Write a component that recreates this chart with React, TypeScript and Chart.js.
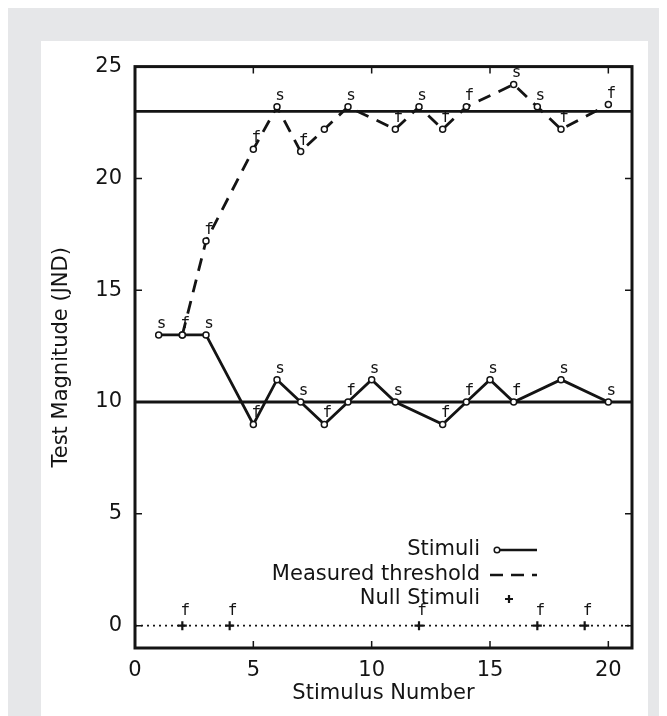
import React, { useEffect, useRef } from "react";
import { Chart, registerables } from "chart.js";

Chart.register(...registerables);

// ---- data ----
const stimX = [1, 2, 3, 5, 6, 7, 8, 9, 10, 11, 13, 14, 15, 16, 18, 20];
const stimY = [13, 13, 13, 9, 11, 10, 9, 10, 11, 10, 9, 10, 11, 10, 11, 10];
const stimLabels = ["s", "f", "s", "f", "s", "s", "f", "f", "s", "s", "f", "f", "s", "f", "s", "s"];

const threshX = [2, 3, 5, 6, 7, 8, 9, 11, 12, 13, 14, 16, 17, 18, 20];
const threshY = [13, 17.2, 21.3, 23.2, 21.2, 22.2, 23.2, 22.2, 23.2, 22.2, 23.2, 24.2, 23.2, 22.2, 23.3];
const threshLabels = ["", "f", "f", "s", "f", "", "s", "f", "s", "f", "f", "s", "s", "f", "f"];

const nullX = [2, 4, 12, 17, 19];
const nullY = [0, 0, 0, 0, 0];
const nullLabels = ["f", "f", "f", "f", "f"];

const refLevels = [10, 23];
const xRange = [0, 21];
const yRange = [-1, 25];
const xTicks = [0, 5, 10, 15, 20];
const yTicks = [0, 5, 10, 15, 20, 25];

const legendNames = ["Stimuli", "Measured threshold", "Null Stimuli"];

const INK = "#141414";
const FONT = "'DejaVu Sans', sans-serif";

const pts = (xs: number[], ys: number[]) => xs.map((x, i) => ({ x, y: ys[i] }));

const labelPlugin = {
  id: "pointLabels",
  afterDatasetsDraw(chart: any) {
    const ctx = chart.ctx;
    ctx.save();
    ctx.fillStyle = INK;
    ctx.font = "16px 'DejaVu Sans Mono', monospace";
    ctx.textAlign = "center";
    ctx.textBaseline = "alphabetic";
    chart.data.datasets.forEach((ds: any, di: number) => {
      if (!ds.pointLabels) return;
      const meta = chart.getDatasetMeta(di);
      meta.data.forEach((el: any, i: number) => {
        const t = ds.pointLabels[i];
        if (!t) return;
        ctx.fillText(t, el.x + 3, el.y - ds.labelLift);
      });
    });
    ctx.restore();
  },
};

const framePlugin = {
  id: "frame",
  afterDraw(chart: any) {
    const { ctx, chartArea: a, scales } = chart;
    ctx.save();
    ctx.strokeStyle = INK;
    ctx.lineWidth = 3;
    ctx.strokeRect(a.left, a.top, a.right - a.left, a.bottom - a.top);
    ctx.lineWidth = 1.5;
    const tl = 7;
    xTicks.forEach((v) => {
      const px = scales.x.getPixelForValue(v);
      if (Math.abs(px - a.left) < 3 || Math.abs(px - a.right) < 3) return;
      ctx.beginPath();
      ctx.moveTo(px, a.bottom);
      ctx.lineTo(px, a.bottom - tl);
      ctx.moveTo(px, a.top);
      ctx.lineTo(px, a.top + tl);
      ctx.stroke();
    });
    yTicks.forEach((v) => {
      const py = scales.y.getPixelForValue(v);
      if (Math.abs(py - a.top) < 3 || Math.abs(py - a.bottom) < 3) return;
      ctx.beginPath();
      ctx.moveTo(a.left, py);
      ctx.lineTo(a.left + tl, py);
      ctx.moveTo(a.right, py);
      ctx.lineTo(a.right - tl, py);
      ctx.stroke();
    });

    // legend
    const textRight = 439;
    const rows = [509, 534, 558];
    ctx.font = "21px " + FONT;
    ctx.fillStyle = INK;
    ctx.textAlign = "right";
    ctx.textBaseline = "middle";
    legendNames.forEach((n, i) => ctx.fillText(n, textRight, rows[i]));
    const sx0 = textRight + 10;
    const sx1 = textRight + 57;
    ctx.strokeStyle = INK;
    ctx.lineWidth = 2.5;
    ctx.beginPath();
    ctx.moveTo(sx0 + 7, rows[0]);
    ctx.lineTo(sx1, rows[0]);
    ctx.stroke();
    ctx.lineWidth = 1.5;
    ctx.fillStyle = "#fff";
    ctx.beginPath();
    ctx.arc(sx0 + 7, rows[0], 2.8, 0, Math.PI * 2);
    ctx.fill();
    ctx.stroke();
    ctx.lineWidth = 2.5;
    ctx.setLineDash([13, 8]);
    ctx.beginPath();
    ctx.moveTo(sx0, rows[1]);
    ctx.lineTo(sx1, rows[1]);
    ctx.stroke();
    ctx.setLineDash([]);
    ctx.lineWidth = 2.2;
    const px = sx0 + 19;
    ctx.beginPath();
    ctx.moveTo(px - 4, rows[2]);
    ctx.lineTo(px + 4, rows[2]);
    ctx.moveTo(px, rows[2] - 4);
    ctx.lineTo(px, rows[2] + 4);
    ctx.stroke();
    ctx.restore();
  },
};

export default function App() {
  const ref = useRef<HTMLCanvasElement | null>(null);
  useEffect(() => {
    if (!ref.current) return;
    const refSets = refLevels.map((lv) => ({
      data: pts(xRange, [lv, lv]),
      borderColor: INK,
      borderWidth: 2.8,
      pointRadius: 0,
      showLine: true,
    }));
    const chart = new Chart(ref.current, {
      type: "scatter",
      data: {
        datasets: [
          {
            data: pts(stimX, stimY),
            showLine: true,
            borderColor: INK,
            borderWidth: 2.8,
            pointRadius: 3,
            pointBorderWidth: 1.5,
            pointBorderColor: INK,
            pointBackgroundColor: "#fff",
            pointLabels: stimLabels,
            labelLift: 7,
          } as any,
          {
            data: pts(threshX, threshY),
            showLine: true,
            borderColor: INK,
            borderWidth: 2.8,
            borderDash: [13, 9],
            pointRadius: 3,
            pointBorderWidth: 1.5,
            pointBorderColor: INK,
            pointBackgroundColor: "#fff",
            pointLabels: threshLabels,
            labelLift: 7,
          } as any,
          {
            data: pts(nullX, nullY),
            showLine: false,
            pointStyle: "cross",
            pointRadius: 4.5,
            pointBorderWidth: 2.2,
            pointBorderColor: INK,
            pointLabels: nullLabels,
            labelLift: 11,
          } as any,
          {
            data: pts(xRange, [0, 0]),
            showLine: true,
            borderColor: INK,
            borderWidth: 1.6,
            borderDash: [2, 4],
            pointRadius: 0,
          },
          ...refSets,
        ],
      },
      options: {
        animation: false,
        responsive: false,
        maintainAspectRatio: false,
        layout: { padding: { top: 14, right: 16, left: 0, bottom: 0 } },
        plugins: { legend: { display: false }, tooltip: { enabled: false } },
        scales: {
          x: {
            type: "linear",
            min: xRange[0],
            max: xRange[1],
            afterBuildTicks: (s: any) => {
              s.ticks = xTicks.map((v) => ({ value: v }));
            },
            afterFit: (s: any) => {
              s.height = 68;
            },
            grid: { display: false, drawTicks: false },
            border: { display: false },
            ticks: { color: INK, font: { family: FONT, size: 21 }, padding: 10, maxRotation: 0 },
            title: {
              display: true,
              text: "Stimulus Number",
              color: INK,
              font: { family: FONT, size: 21 },
              padding: { top: 0, bottom: 10 },
            },
          },
          y: {
            type: "linear",
            min: yRange[0],
            max: yRange[1],
            afterBuildTicks: (s: any) => {
              s.ticks = yTicks.map((v) => ({ value: v }));
            },
            afterFit: (s: any) => {
              s.width = 94;
            },
            grid: { display: false, drawTicks: false },
            border: { display: false },
            ticks: { color: INK, font: { family: FONT, size: 21 }, padding: 13 },
            title: {
              display: true,
              text: "Test Magnitude (JND)",
              color: INK,
              font: { family: FONT, size: 21 },
              padding: { top: 8, bottom: 0 },
            },
          },
        },
      } as any,
      plugins: [labelPlugin, framePlugin],
    });
    return () => chart.destroy();
  }, []);

  return (
    <div
      style={{
        width: 659,
        height: 708,
        background: "#e6e7e9",
        paddingTop: 33,
        paddingLeft: 33,
        boxSizing: "border-box",
        overflow: "hidden",
      }}
    >
      <div style={{ width: 607, height: 675, background: "#fff" }}>
        <canvas ref={ref} width={607} height={675} style={{ display: "block", width: 607, height: 675 }} />
      </div>
    </div>
  );
}
